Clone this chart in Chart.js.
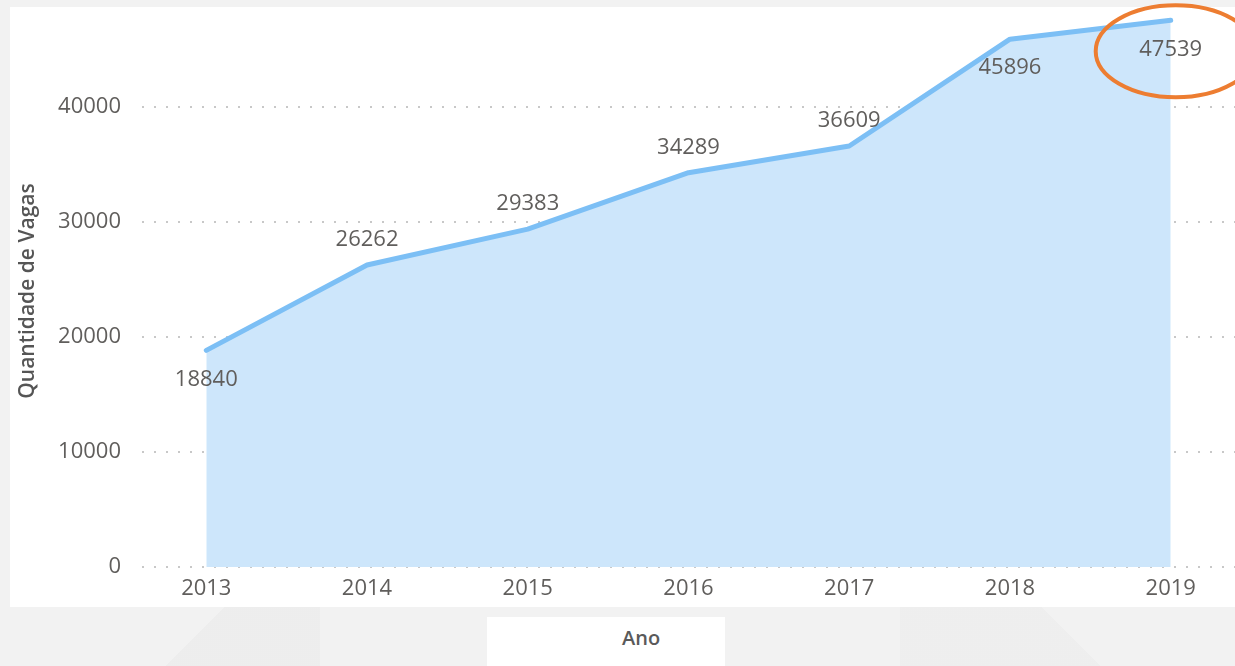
<!DOCTYPE html>
<html lang="pt">
<head>
  <meta charset="UTF-8">
  <title>Quantidade de Vagas por Ano</title>
  <script src="https://cdn.jsdelivr.net/npm/chart.js"></script>
  <style>
    body {
      margin: 0;
      width: 1235px;
      height: 666px;
      overflow: hidden;
      font-family: "Open Sans", Arial, sans-serif;
      background:
        linear-gradient(135deg, rgba(0,0,0,0) 60%, rgba(0,0,0,0.02) 60%) 0 600px / 320px 66px no-repeat,
        linear-gradient(45deg, rgba(0,0,0,0.015) 50%, rgba(0,0,0,0) 50%) 900px 600px / 335px 66px no-repeat,
        #f2f2f2;
      position: relative;
    }
    #panel {
      position: absolute;
      left: 10px;
      top: 7px;
      width: 1225px;
      height: 600px;
      background: #ffffff;
    }
    #ano {
      position: absolute;
      left: 487px;
      top: 617px;
      width: 238px;
      height: 49px;
      background: #ffffff;
      box-sizing: border-box;
      padding-left: 135px;
      padding-top: 7px;
      font-size: 20px;
      font-weight: 600;
      color: #5a5a5a;
    }
    #chartWrap {
      position: absolute;
      left: 0;
      top: 0;
      width: 1235px;
      height: 666px;
    }
  </style>
</head>
<body>
  <div id="panel"></div>
  <div id="ano">Ano</div>
  <div id="chartWrap"><canvas id="vagasChart" width="1235" height="666"></canvas></div>

  <script>
    // dados
    const anos = [2013, 2014, 2015, 2016, 2017, 2018, 2019];
    const vagas = [18840, 26262, 29383, 34289, 36609, 45896, 47539];
    const yTicks = [0, 10000, 20000, 30000, 40000];
    // onde fica o rotulo de cada ponto
    const labelSide = ["below", "above", "above", "above", "above", "below", "below"];

    const textColor = "#605e5c";
    const fontFamily = "'Open Sans', Arial, sans-serif";

    // rotulos de dados
    const dataLabels = {
      id: "dataLabels",
      afterDatasetsDraw(chart) {
        const ctx = chart.ctx;
        const meta = chart.getDatasetMeta(0);
        ctx.save();
        ctx.font = "22px " + fontFamily;
        ctx.fillStyle = textColor;
        ctx.textAlign = "center";
        ctx.textBaseline = "middle";
        meta.data.forEach((pt, i) => {
          const dy = labelSide[i] === "below" ? 29 : -25;
          ctx.fillText(String(vagas[i]), pt.x, pt.y + dy);
        });
        ctx.restore();
      }
    };

    // destaque laranja no ultimo valor
    const highlight = {
      id: "highlight",
      afterDraw(chart) {
        const meta = chart.getDatasetMeta(0);
        const last = meta.data[meta.data.length - 1];
        const ctx = chart.ctx;
        ctx.save();
        ctx.strokeStyle = "#ed7d31";
        ctx.lineWidth = 4;
        ctx.beginPath();
        ctx.ellipse(last.x + 5, last.y + 31, 80, 46, 0, 0, Math.PI * 2);
        ctx.stroke();
        ctx.restore();
      }
    };

    new Chart(document.getElementById("vagasChart").getContext("2d"), {
      type: "line",
      data: {
        datasets: [{
          label: "Quantidade de Vagas",
          data: anos.map((a, i) => ({ x: a, y: vagas[i] })),
          borderColor: "#7cbff5",
          backgroundColor: "#cde6fb",
          borderWidth: 5,
          borderCapStyle: "round",
          borderJoinStyle: "round",
          fill: "origin",
          pointRadius: 0,
          tension: 0
        }]
      },
      plugins: [dataLabels, highlight],
      options: {
        responsive: false,
        animation: false,
        layout: { padding: { top: 15, left: 10, right: 0, bottom: 0 } },
        plugins: {
          legend: { display: false },
          tooltip: { enabled: false }
        },
        scales: {
          x: {
            type: "linear",
            min: 2012.6,
            max: 2019.4,
            afterBuildTicks: scale => { scale.ticks = anos.map(a => ({ value: a })); },
            afterFit: scale => {
              scale.height = 99;
              scale.paddingLeft = 0;
              scale.paddingRight = 0;
            },
            grid: { display: false, drawTicks: false },
            border: { display: false },
            ticks: {
              padding: 9,
              color: textColor,
              font: { size: 22, family: fontFamily },
              callback: v => String(v)
            }
          },
          y: {
            min: 0,
            max: 48000,
            afterBuildTicks: scale => { scale.ticks = yTicks.map(v => ({ value: v })); },
            afterFit: scale => {
              scale.width = 132;
              scale.paddingTop = 0;
              scale.paddingBottom = 0;
            },
            grid: {
              drawTicks: false,
              color: "#c8c8c8",
              lineWidth: 2
            },
            border: { display: false, dash: [2, 10] },
            ticks: {
              padding: 21,
              color: textColor,
              font: { size: 22, family: fontFamily },
              callback: v => String(v)
            },
            title: {
              display: true,
              text: "Quantidade de Vagas",
              color: "#555555",
              font: { size: 21, weight: "600", family: fontFamily },
              padding: { top: 5, bottom: 0 }
            }
          }
        }
      }
    });
  </script>
</body>
</html>
